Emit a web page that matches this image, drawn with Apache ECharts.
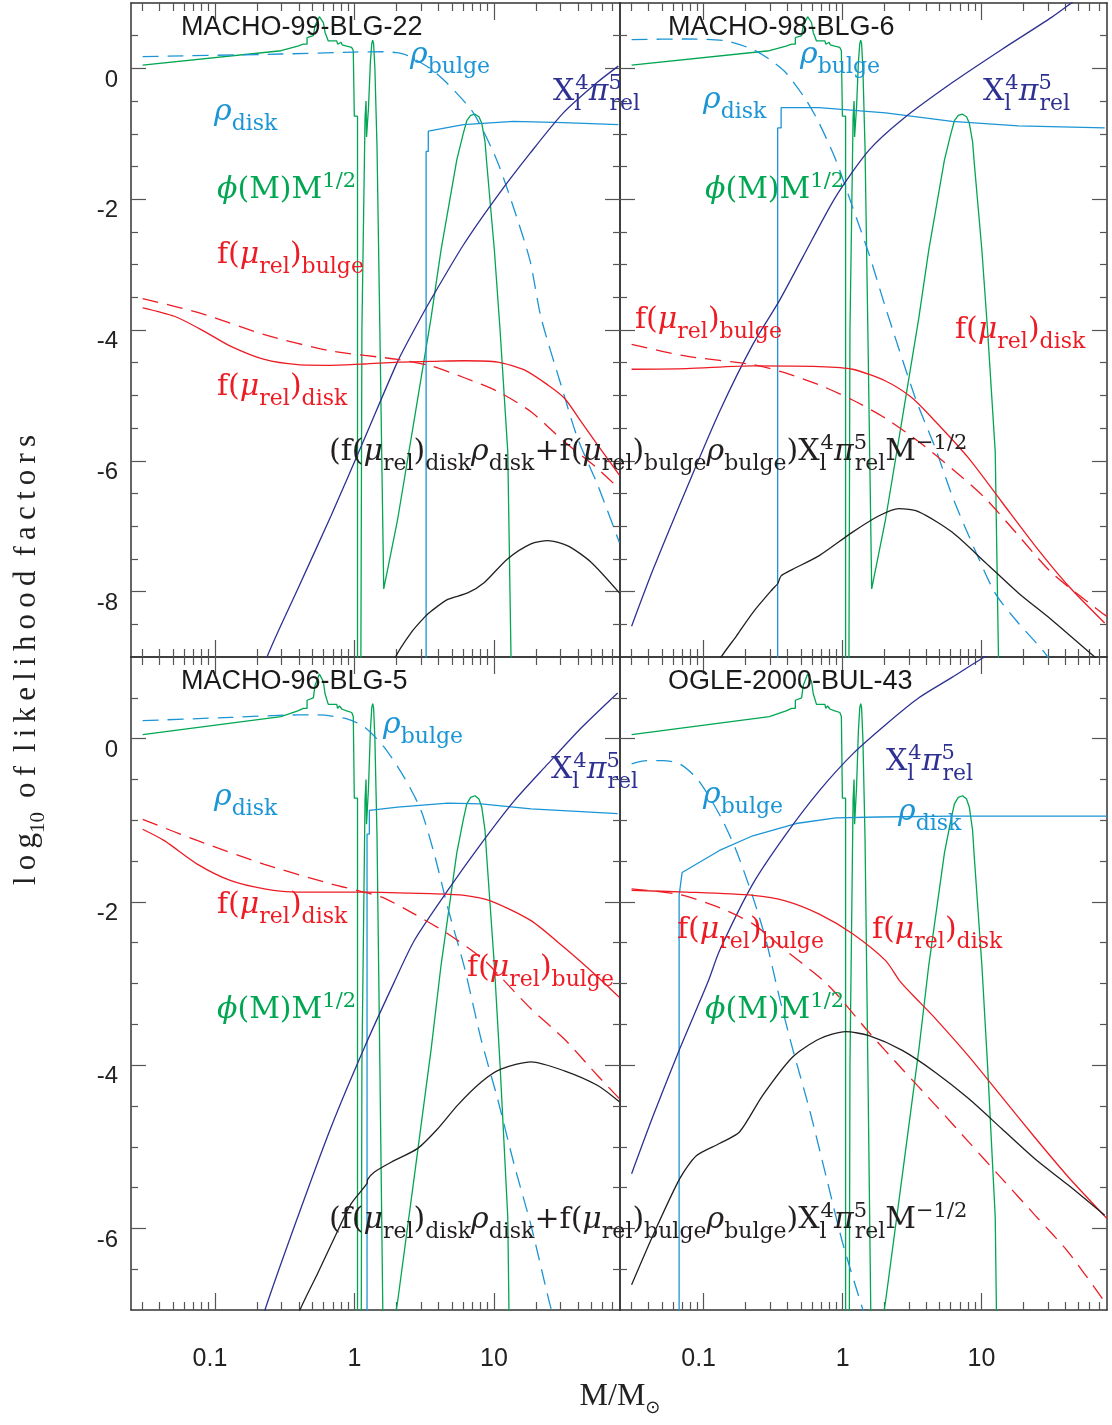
<!DOCTYPE html>
<html>
<head>
<meta charset="utf-8">
<script src="https://cdn.jsdelivr.net/npm/echarts@6/dist/echarts.min.js"></script>
<style>
html, body { margin: 0; padding: 0; background: #fff; }
#chart { width: 1112px; height: 1425px; }
</style>
</head>
<body>
<div id="chart"></div>
<script>
// mass M in solar masses (x), log10 of each factor (y)

// phi(M) M^1/2 is the same mass function in every panel
const phiCurve = [
  [0.0303, 0.05], [0.297, 0.27], [0.30, 0.29], [0.392, 0.34], [0.43, 0.37], [0.457, 0.37],
  [0.457, 0.47], [0.507, 0.50], [0.521, 0.50], [0.521, 0.65], [0.56, 0.79], [0.598, 0.70],
  [0.615, 0.55], [0.649, 0.42], [0.746, 0.42], [0.757, 0.37], [0.78, 0.40], [0.80, 0.40],
  [0.815, 0.36], [0.879, 0.34], [0.955, 0.32], [0.98, 0.27], [0.997, 0.27], [0.997, -0.73],
  [1.051, -0.73], [1.051, -12], [1.10, -12], [1.13, -4.0], [1.19, -0.75], [1.21, -0.5],
  [1.22, -1.05], [1.26, -0.6], [1.30, 0.1], [1.33, 0.38], [1.35, 0.43], [1.37, 0.38],
  [1.40, 0.0], [1.45, -1.2], [1.52, -4.0], [1.62, -7.96], [2.04, -6.89], [2.69, -5.35],
  [3.54, -3.81], [4.17, -2.78], [5.41, -1.40], [6.03, -0.99], [6.38, -0.80], [6.8, -0.72],
  [7.31, -0.70], [7.8, -0.74], [8.17, -0.84], [8.62, -1.12], [8.87, -1.45], [10.06, -2.78],
  [11.05, -4.0], [12.55, -5.86], [13.25, -9.04], [13.9, -12]
];

// MACHO-99-BLG-22
const m99RhoBulge = [[0.0303, 0.18], [0.3, 0.22], [1.0, 0.25], [1.6, 0.255], [2.0, 0.24], [2.38, 0.2], [3.48, 0.0], [4.58, -0.22], [7.11, -0.68], [10.46, -1.40], [13.76, -2.12], [18.12, -2.94], [21.73, -3.81], [30.23, -4.84], [39.8, -5.66], [55.36, -6.37], [79.16, -7.25]];
const m99RhoDisk = [[3.26, -10], [3.26, -1.27], [3.38, -1.27], [3.38, -0.96], [6.03, -0.86], [13.8, -0.81], [31.4, -0.83], [77.8, -0.86]];
const m99XPi = [[0.2, -9.6], [0.232, -9.04], [0.392, -7.96], [0.679, -6.84], [1.18, -5.66], [2.04, -4.48], [2.72, -3.97], [3.54, -3.53], [6.03, -2.70], [10.5, -1.96], [18.1, -1.30], [31.4, -0.68], [54.5, -0.22], [77.8, 0.035]];
const m99FDisk = [[0.0303, -3.66], [0.0511, -3.79], [0.0838, -4.02], [0.130, -4.25], [0.226, -4.45], [0.392, -4.53], [0.679, -4.54], [1.18, -4.52], [2.04, -4.49], [3.54, -4.48], [6.13, -4.47], [10.63, -4.49], [16.5, -4.61], [24.3, -4.84], [31.9, -5.04], [42.1, -5.40], [55.4, -5.76], [79.2, -6.22]];
const m99FBulge = [[0.0303, -3.52], [0.0751, -3.73], [0.226, -4.07], [0.679, -4.32], [2.04, -4.45], [3.54, -4.55], [6.13, -4.73], [10.63, -4.94], [18.42, -5.25], [31.94, -5.71], [55.36, -6.12], [79.16, -6.43]];
const m99Total = [[1.6, -9.7], [1.93, -9.04], [2.54, -8.63], [3.25, -8.37], [3.54, -8.30], [4.66, -8.12], [6.48, -8.02], [8.53, -7.86], [12.5, -7.50], [18.4, -7.27], [24.3, -7.22], [33.8, -7.30], [49.6, -7.55], [79.2, -8.02]];

// MACHO-98-BLG-6
const m98RhoBulge = [[0.0303, 0.44], [0.0751, 0.45], [0.145, 0.42], [0.226, 0.29], [0.297, 0.14], [0.392, -0.07], [0.545, -0.48], [0.679, -0.84], [0.894, -1.40], [1.18, -2.12], [1.55, -2.84], [2.04, -3.66], [3.35, -5.05], [4.66, -5.81], [6.13, -6.53], [8.07, -7.14], [12.5, -8.02], [18.4, -8.48], [28.6, -8.94], [40, -9.4]];
const m98RhoDisk = [[0.341, -10], [0.341, -0.91], [0.361, -0.91], [0.361, -0.60], [0.679, -0.60], [2.04, -0.68], [6.13, -0.81], [18.4, -0.88], [77.0, -0.91]];
const m98XPi = [[0.0303, -8.53], [0.0433, -7.66], [0.0751, -6.43], [0.130, -5.25], [0.226, -4.22], [0.351, -3.55], [0.516, -2.89], [0.894, -1.96], [1.55, -1.25], [2.69, -0.78], [6.13, -0.22], [14.0, 0.29], [31.9, 0.78], [47.0, 1.04], [60, 1.2]];
const m98FDisk = [[0.0303, -4.60], [0.0751, -4.59], [0.226, -4.55], [0.679, -4.56], [1.18, -4.60], [2.04, -4.78], [3.17, -5.04], [4.66, -5.40], [8.07, -5.96], [14.0, -6.63], [24.3, -7.30], [42.1, -7.91], [77.0, -8.48]];
const m98FBulge = [[0.0303, -4.22], [0.0751, -4.40], [0.226, -4.53], [0.392, -4.66], [0.679, -4.84], [1.18, -5.07], [2.04, -5.35], [3.54, -5.71], [6.13, -6.12], [10.6, -6.57], [18.4, -7.14], [31.9, -7.71], [72.9, -8.32], [80, -8.38]];
const m98Total = [[0.11, -9.4], [0.130, -9.04], [0.172, -8.68], [0.226, -8.32], [0.314, -7.96], [0.341, -7.88], [0.361, -7.76], [0.437, -7.66], [0.679, -7.45], [1.18, -7.09], [1.83, -6.84], [2.54, -6.73], [3.54, -6.78], [6.13, -7.09], [10.6, -7.55], [18.4, -8.02], [31.9, -8.43], [65.3, -9.0], [80, -9.15]];

// MACHO-96-BLG-5
const m96RhoBulge = [[0.0303, 0.22], [0.130, 0.26], [0.392, 0.29], [0.545, 0.29], [0.894, 0.24], [1.18, 0.14], [1.64, -0.11], [2.28, -0.48], [3.00, -0.88], [3.74, -1.42], [4.66, -2.07], [6.13, -2.80], [8.07, -3.68], [10.6, -4.41], [14.0, -5.23], [18.4, -5.96], [24.9, -6.90], [30, -7.4]];
const m96RhoDisk = [[1.23, -10], [1.23, -1.17], [1.278, -1.17], [1.278, -0.88], [2.04, -0.84], [4.66, -0.79], [8.07, -0.80], [18.4, -0.86], [77.0, -0.92]];
const m96XPi = [[0.20, -7.4], [0.226, -7.02], [0.392, -5.86], [0.679, -4.76], [1.18, -3.78], [1.93, -2.98], [2.69, -2.47], [4.66, -1.86], [8.07, -1.29], [14.0, -0.76], [24.3, -0.31], [42.1, 0.13], [77.0, 0.56]];
const m96FDisk = [[0.0303, -1.11], [0.0433, -1.25], [0.0751, -1.54], [0.130, -1.74], [0.226, -1.84], [0.392, -1.88], [1.18, -1.88], [3.54, -1.90], [6.13, -1.92], [9.52, -1.99], [18.4, -2.23], [31.9, -2.56], [55.4, -2.92], [79.2, -3.17]];
const m96FBulge = [[0.0303, -0.99], [0.0751, -1.25], [0.226, -1.54], [0.679, -1.78], [1.55, -1.94], [2.69, -2.15], [4.66, -2.39], [8.07, -2.68], [10.6, -2.88], [18.4, -3.31], [31.9, -3.68], [55.4, -4.13], [79.2, -4.41]];
const m96Total = [[0.33, -7.5], [0.402, -7.02], [0.545, -6.55], [0.758, -6.03], [0.944, -5.70], [1.23, -5.45], [1.243, -5.40], [1.39, -5.31], [1.83, -5.19], [2.84, -5.02], [3.95, -4.78], [5.49, -4.49], [8.07, -4.21], [11.2, -4.05], [18.4, -3.96], [31.9, -4.07], [55.4, -4.25], [79.2, -4.45]];

// OGLE-2000-BUL-43
const o43RhoBulge = [[0.0303, -0.31], [0.0388, -0.27], [0.0511, -0.27], [0.0673, -0.31], [0.0886, -0.48], [0.1105, -0.72], [0.1376, -1.01], [0.1715, -1.37], [0.226, -1.94], [0.281, -2.47], [0.351, -3.17], [0.437, -3.80], [0.575, -4.53], [0.758, -5.35], [0.998, -6.17], [1.39, -6.98], [1.6, -7.3]];
const o43RhoDisk = [[0.0666, -10], [0.0666, -1.92], [0.070, -1.64], [0.130, -1.37], [0.226, -1.19], [0.462, -1.04], [0.894, -0.97], [1.83, -0.96], [6.13, -0.95], [80, -0.95]];
const o43XPi = [[0.0303, -5.33], [0.0433, -4.62], [0.0673, -3.80], [0.1075, -2.98], [0.130, -2.60], [0.226, -1.78], [0.392, -1.17], [0.679, -0.64], [1.18, -0.19], [2.04, 0.17], [3.54, 0.50], [6.13, 0.75], [9.79, 0.97], [14, 1.12]];
const o43FDisk = [[0.0303, -1.86], [0.0751, -1.88], [0.226, -1.92], [0.392, -1.99], [0.679, -2.15], [1.18, -2.39], [2.04, -2.72], [2.61, -2.98], [3.64, -3.24], [4.66, -3.43], [8.07, -3.89], [14.0, -4.39], [24.3, -4.89], [42.1, -5.37], [77.0, -5.85], [80, -5.88]];
const o43FBulge = [[0.0303, -1.84], [0.0673, -1.91], [0.130, -2.07], [0.226, -2.27], [0.392, -2.60], [0.679, -2.92], [0.894, -3.12], [1.55, -3.60], [2.69, -4.05], [4.66, -4.49], [8.07, -4.94], [14.0, -5.39], [24.3, -5.84], [42.1, -6.29], [77.0, -6.90]];
const o43Total = [[0.0303, -6.69], [0.0433, -6.08], [0.0673, -5.39], [0.0886, -5.11], [0.130, -4.96], [0.181, -4.82], [0.266, -4.37], [0.437, -3.90], [0.679, -3.68], [1.05, -3.59], [1.55, -3.64], [2.69, -3.82], [4.66, -4.09], [8.07, -4.41], [14.0, -4.78], [24.3, -5.15], [42.1, -5.47], [77.0, -5.84]];

// axes
const xRange = [0.025, 80];
const xMajorTicks = [0.1, 1, 10];
const xMinorTicks = [0.03, 0.04, 0.05, 0.06, 0.07, 0.08, 0.09, 0.2, 0.3, 0.4, 0.5, 0.6, 0.7, 0.8, 0.9,
  2, 3, 4, 5, 6, 7, 8, 9, 20, 30, 40, 50, 60, 70];
const yRangeTop = [-9, 1];
const yRangeBottom = [-7, 1];
const yMajorTop = [-8, -6, -4, -2, 0];
const yMajorBottom = [-6, -4, -2, 0];

const SERIF = '"DejaVu Serif", "Liberation Serif", serif';
const SANS = '"Liberation Sans", Arial, Helvetica, sans-serif';
const GREEN = '#00a651';
const CYAN = '#1b95d5';
const NAVY = '#2e3192';
const RED = '#ed1c24';
const BLACK = '#231f20';

const panels = [
  { title: 'MACHO-99-BLG-22', yRange: yRangeTop, yMajor: yMajorTop, rhoBulge: m99RhoBulge, rhoDisk: m99RhoDisk, xpi: m99XPi, fDisk: m99FDisk, fBulge: m99FBulge, total: m99Total },
  { title: 'MACHO-98-BLG-6', yRange: yRangeTop, yMajor: yMajorTop, rhoBulge: m98RhoBulge, rhoDisk: m98RhoDisk, xpi: m98XPi, fDisk: m98FDisk, fBulge: m98FBulge, total: m98Total },
  { title: 'MACHO-96-BLG-5', yRange: yRangeBottom, yMajor: yMajorBottom, rhoBulge: m96RhoBulge, rhoDisk: m96RhoDisk, xpi: m96XPi, fDisk: m96FDisk, fBulge: m96FBulge, total: m96Total },
  { title: 'OGLE-2000-BUL-43', yRange: yRangeBottom, yMajor: yMajorBottom, rhoBulge: o43RhoBulge, rhoDisk: o43RhoDisk, xpi: o43XPi, fDisk: o43FDisk, fBulge: o43FBulge, total: o43Total }
];

const grids = [
  { left: 131, top: 3, width: 489, height: 654 },
  { left: 620, top: 3, width: 487, height: 654 },
  { left: 131, top: 657, width: 489, height: 653 },
  { left: 620, top: 657, width: 487, height: 653 }
];

function minorYTicks(range, majors) {
  const out = [];
  for (let v = range[0] + 0.5; v < range[1]; v += 0.5) {
    if (majors.indexOf(v) < 0) out.push(v);
  }
  return out;
}

const tickStyle = { color: '#555', width: 1.2 };
const frameStyle = { color: '#333', width: 1.5 };

const xAxes = [];
const yAxes = [];
panels.forEach(function (p, gi) {
  const showX = gi >= 2;
  const showY = gi % 2 === 0;
  ['bottom', 'top'].forEach(function (pos) {
    xAxes.push({
      gridIndex: gi, type: 'log', logBase: 10, min: xRange[0], max: xRange[1], position: pos,
      axisLine: { show: true, onZero: false, lineStyle: frameStyle },
      axisTick: { show: true, inside: true, length: 17, customValues: xMajorTicks, lineStyle: tickStyle },
      axisLabel: {
        show: showX && pos === 'bottom', customValues: xMajorTicks, margin: 37,
        color: '#222', fontFamily: SANS, fontSize: 25,
        formatter: function (v) {
          const s = String(+v.toPrecision(3));
          return v < 1 ? '{l|' + s + '}' : s;
        },
        rich: { l: { fontFamily: SANS, fontSize: 25, color: '#222', padding: [0, 10, 0, 0] } }
      },
      splitLine: { show: false }
    });
    xAxes.push({
      gridIndex: gi, type: 'log', logBase: 10, min: xRange[0], max: xRange[1], position: pos,
      axisLine: { show: false, onZero: false },
      axisTick: { show: true, inside: true, length: 8, customValues: xMinorTicks, lineStyle: tickStyle },
      axisLabel: { show: false },
      splitLine: { show: false }
    });
  });
  ['left', 'right'].forEach(function (pos) {
    yAxes.push({
      gridIndex: gi, type: 'value', min: p.yRange[0], max: p.yRange[1], position: pos,
      axisLine: { show: true, onZero: false, lineStyle: frameStyle },
      axisTick: { show: true, inside: true, length: 15, customValues: p.yMajor, lineStyle: tickStyle },
      axisLabel: {
        show: showY && pos === 'left', customValues: p.yMajor, margin: 13,
        color: '#222', fontFamily: SANS, fontSize: 24, verticalAlign: 'top', lineHeight: 23
      },
      splitLine: { show: false }
    });
    yAxes.push({
      gridIndex: gi, type: 'value', min: p.yRange[0], max: p.yRange[1], position: pos,
      axisLine: { show: false, onZero: false },
      axisTick: { show: true, inside: true, length: 7, customValues: minorYTicks(p.yRange, p.yMajor), lineStyle: tickStyle },
      axisLabel: { show: false },
      splitLine: { show: false }
    });
  });
});

function curve(gi, data, color, dashed, smooth) {
  return {
    type: 'line', xAxisIndex: gi * 4, yAxisIndex: gi * 4, data: data,
    symbol: 'none', showSymbol: false, silent: true, clip: true, animation: false,
    smooth: smooth ? 0.25 : false,
    lineStyle: { color: color, width: 1.3, type: dashed ? [16, 9] : 'solid' }
  };
}

const series = [];
panels.forEach(function (p, gi) {
  series.push(curve(gi, phiCurve, GREEN, false, false));
  series.push(curve(gi, p.rhoDisk, CYAN, false, false));
  series.push(curve(gi, p.rhoBulge, CYAN, true, true));
  series.push(curve(gi, p.xpi, NAVY, false, true));
  series.push(curve(gi, p.fDisk, RED, false, true));
  series.push(curve(gi, p.fBulge, RED, true, true));
  series.push(curve(gi, p.total, BLACK, false, true));
});

// math-style labels
const RICH = {
  m: { fontFamily: SERIF, fontSize: 30, lineHeight: 46, verticalAlign: 'middle' },
  g: { fontFamily: SERIF, fontSize: 30, fontStyle: 'italic', lineHeight: 46, verticalAlign: 'middle' },
  b: { fontFamily: SERIF, fontSize: 22, height: 22, verticalAlign: 'bottom' },
  p: { fontFamily: SERIF, fontSize: 21, height: 30, verticalAlign: 'top' },
  bz: { fontFamily: SERIF, fontSize: 22, height: 22, verticalAlign: 'bottom', width: 1 },
  pz: { fontFamily: SERIF, fontSize: 21, height: 30, verticalAlign: 'top', width: 1 }
};
const LBL = {
  rhoBulge: '{g|ρ}{b|bulge}',
  rhoDisk: '{g|ρ}{b|disk}',
  xpi: '{m|X}{bz|l}{p|4}{g|π}{pz|5}{b|rel}',
  phi: '{g|ϕ}{m|(M)M}{p|1/2}',
  fBulge: '{m|f(}{g|μ}{b|rel}{m|)}{b|bulge}',
  fDisk: '{m|f(}{g|μ}{b|rel}{m|)}{b|disk}',
  total: '{m|(f(}{g|μ}{b|rel}{m|)}{b|disk}{g|ρ}{b|disk}{m|+f(}{g|μ}{b|rel}{m|)}{b|bulge}{g|ρ}{b|bulge}{m|)X}{bz|l}{p|4}{g|π}{pz|5}{b|rel}{m|M}{p|−1/2}'
};
const labelSpots = [
  [410, 55, 'rhoBulge', CYAN], [553, 92, 'xpi', NAVY], [214, 112, 'rhoDisk', CYAN],
  [217, 190, 'phi', GREEN], [217, 255, 'fBulge', RED], [217, 387, 'fDisk', RED], [329, 452, 'total', BLACK],
  [800, 55, 'rhoBulge', CYAN], [983, 92, 'xpi', NAVY], [703, 100, 'rhoDisk', CYAN],
  [705, 190, 'phi', GREEN], [635, 320, 'fBulge', RED], [955, 330, 'fDisk', RED],
  [383, 725, 'rhoBulge', CYAN], [551, 770, 'xpi', NAVY], [214, 797, 'rhoDisk', CYAN],
  [217, 905, 'fDisk', RED], [467, 968, 'fBulge', RED], [217, 1010, 'phi', GREEN], [329, 1220, 'total', BLACK],
  [886, 762, 'xpi', NAVY], [703, 795, 'rhoBulge', CYAN], [898, 812, 'rhoDisk', CYAN],
  [677, 930, 'fBulge', RED], [872, 930, 'fDisk', RED], [705, 1010, 'phi', GREEN]
];
const titleSpots = [[181, 28], [668, 28], [181, 682], [668, 682]];

const graphic = [];
labelSpots.forEach(function (s) {
  graphic.push({
    type: 'text', z: 100, silent: true,
    style: { x: s[0], y: s[1], text: LBL[s[2]], rich: RICH, fill: s[3], align: 'left', verticalAlign: 'middle' }
  });
});
panels.forEach(function (p, i) {
  graphic.push({
    type: 'text', z: 100, silent: true,
    style: { x: titleSpots[i][0], y: titleSpots[i][1], text: p.title, fill: '#1a1a1a',
      font: '27px ' + SANS, align: 'left', verticalAlign: 'middle' }
  });
});
// axis titles
const yTitle = 'l\u2009o\u2009g';
const yTitleRest = ' \u2009o\u2009f \u2009l\u2009i\u2009k\u2009e\u2009l\u2009i\u2009h\u2009o\u2009o\u2009d \u2009f\u2009a\u2009c\u2009t\u2009o\u2009r\u2009s';
graphic.push({
  type: 'text', z: 100, silent: true, x: 27, y: 660, rotation: Math.PI / 2,
  style: {
    x: 0, y: 0, text: '{t|' + yTitle + '}{s|10}{t|' + yTitleRest + '}', fill: '#222',
    align: 'center', verticalAlign: 'middle',
    rich: {
      t: { fontFamily: '"Liberation Serif", serif', fontSize: 31, lineHeight: 46, verticalAlign: 'middle' },
      s: { fontFamily: '"Liberation Serif", serif', fontSize: 21, height: 24, verticalAlign: 'bottom' }
    }
  }
});
graphic.push({
  type: 'text', z: 100, silent: true,
  style: {
    x: 620, y: 1397, text: '{m|M/M}{b|\u2299}', fill: '#222', align: 'center', verticalAlign: 'middle',
    rich: {
      m: { fontFamily: '"Liberation Serif", serif', fontSize: 32, lineHeight: 46, verticalAlign: 'middle' },
      b: { fontFamily: '"DejaVu Sans", sans-serif', fontSize: 18, height: 24, verticalAlign: 'bottom' }
    }
  }
});

const chart = echarts.init(document.getElementById('chart'));
chart.setOption({
  animation: false,
  backgroundColor: '#fff',
  textStyle: { fontFamily: SANS },
  grid: grids,
  xAxis: xAxes,
  yAxis: yAxes,
  series: series,
  graphic: graphic
});
</script>
</body>
</html>
